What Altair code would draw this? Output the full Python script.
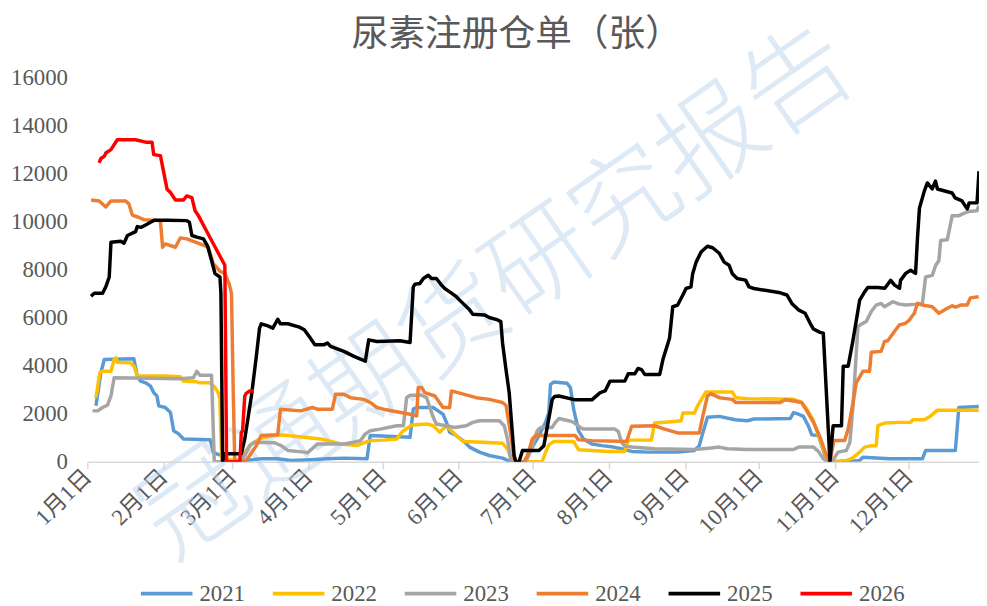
import altair as alt
import pandas as pd

years = ["2021", "2022", "2023", "2024", "2025", "2026"]
colors = ["#5B9BD5", "#FFC000", "#A5A5A5", "#ED7D31", "#000000", "#FF0000"]

month_days = [0, 31, 59, 90, 120, 151, 181, 212, 243, 273, 304, 334]
month_labels = ["1月1日", "2月1日", "3月1日", "4月1日", "5月1日", "6月1日",
                "7月1日", "8月1日", "9月1日", "10月1日", "11月1日", "12月1日"]
y_ticks = [0, 2000, 4000, 6000, 8000, 10000, 12000, 14000, 16000]

d2021 = [3.5,5.5,6.9,18.9,20.3,21.6,23.7,25.7,27,28.3,29,31.7,33.8,35.1,37.1,39.1,49.9,51.2,52.5,54.6,55.2,61.3,64,70.7,77.4,82.8,90.8,97.6,104.3,113.7,115,131.2,132.5,133.9,140.6,142.6,144.6,146,147.3,150,152.7,155.4,159.4,163.4,168.8,172.2,178.2,180.9,183.6,186.3,187.6,188.3,189.6,195,196.4,197.7,199.7,201.7,205.1,209.2,213.8,217.2,221.3,228,240,246.8,248.8,250.1,252.1,256.9,263.3,268.3,271,285.8,287.1,289.1,291.1,293.1,294.5,297.2,299.9,301.2,308.6,314,315.3,326.2,339.5,340.8,352.9,354.3,362.4]
v2021 = [2330,3710,4260,4290,3570,3360,3290,3150,2880,2740,2330,2260,2050,1290,1160,950,920,400,330,260,0,0,50,120,120,50,80,120,150,120,1090,1020,2190,2260,2260,2120,1980,1640,1230,1090,880,610,400,260,150,0,0,610,1090,1640,2050,3220,3320,3270,3090,2190,1290,950,740,670,610,540,430,400,400,470,670,1160,1850,1890,1750,1710,1780,1800,2050,1980,1890,1500,1120,1090,260,0,0,50,190,120,120,470,470,2260,2300]

d2022 = [3.5,5.1,6.2,9.6,10.9,11.6,12.2,17.6,19,20.3,31,37.8,39.1,44.5,45.8,49.9,51.9,53.2,53.9,54.6,62,64,66.7,70.7,77.4,81.5,88.2,94.9,100.3,103,109.7,112.4,115,120.4,125.8,127.8,130.5,131.9,138.6,140.6,143.3,144.6,146,150,152.7,160.8,168.8,171,172.2,173.5,184.9,186.3,187.6,189.6,197.7,199.7,205.1,211.8,218.5,219.9,229.3,230.6,237.4,241.4,242.1,246.8,248.1,250.1,251.5,262.2,263.6,268.3,287.1,290.4,292.5,295.2,297.2,299.2,301.2,308.6,311.3,314,316,318.7,320.7,321.4,324.1,330.1,334.8,335.5,340.2,342.9,345.6,362.4]
v2022 = [2670,3710,3770,3770,4260,4330,4150,4120,3980,3570,3570,3540,3360,3330,3290,3290,3090,2880,2600,100,50,400,740,990,1120,1090,1020,950,810,740,680,790,880,900,950,1230,1430,1530,1570,1500,1230,1360,1500,1090,840,810,770,500,120,0,0,400,700,840,840,500,470,430,430,900,900,1610,1670,1710,2030,2030,2330,2670,2910,2910,2670,2630,2600,2470,2190,1710,1090,540,0,50,170,400,610,670,670,1500,1610,1640,1640,1750,1750,1910,2150,2150]

d2023 = [2.1,4.2,6.2,8.2,9.6,10.9,37.8,43.1,44.5,45.8,50.5,51.6,62,64,66,68,76.1,78.8,81.5,88.2,89.5,93.5,104.3,108.3,111,113,115,119,125.8,128.5,129.8,131.2,135.9,137.9,139.2,140.6,141.9,146,149.3,154,156.7,159.4,167.5,169.5,170.8,172.2,173.5,178.2,180.9,182.9,184.3,189,190.3,191.7,195.7,197.7,200.4,201.7,214.5,215.9,217.2,218.5,221.3,230.6,246.8,253.5,256.9,260.2,268.3,287.1,289.1,295.2,297.2,299.2,301.2,303.2,305.2,308.6,310,311.3,312.6,313.3,314.6,316.7,318.7,320.7,322.7,324.1,327.4,330.1,332.8,337.5,339.5,340.8,343.5,344.9,346.2,346.9,349.6,351.6,354.3,355.6,358.3,361.7,362.4]
v2023 = [2120,2120,2260,2360,2740,3500,3460,3500,3770,3600,3600,0,0,260,670,810,790,670,470,400,370,740,740,810,880,1160,1290,1360,1500,1500,2670,2770,2770,2670,2290,1850,1570,1500,1430,1500,1640,1710,1710,1500,950,50,0,0,670,1290,1430,1430,1640,1800,1710,1640,1430,1360,1360,1250,810,650,610,540,510,570,610,540,510,510,610,610,430,120,0,80,400,470,810,2330,4530,5630,5730,5850,6260,6530,6600,6460,6670,6570,6530,6570,6600,7700,7770,8190,8390,9220,9250,10250,10250,10320,10430,10460,10670]

d2024 = [1.5,4.8,7.5,9.6,15.6,16.9,18.3,21,23,29.7,30.6,31.7,35.8,37.8,40.4,45.8,49.2,51.2,53.9,55.9,57.7,58.6,59.3,59.9,64,66,68.7,70.7,77.4,78.5,86.8,91.5,93.5,99.6,100.9,104.3,107,112.4,115,117.7,120.4,131.2,133.9,134.5,135.9,137.2,141.3,144.6,147.3,148,150.7,158.1,163.4,168.8,170.2,172.2,173.5,174.2,177.5,178.9,180.9,182.3,198.4,199.7,205.1,215.9,219.2,221.3,230.6,234.7,240,248.8,250.1,252.1,253.5,256.9,262.2,263.6,281.7,283.7,287.1,290.4,292.5,295.2,297.9,300.5,301.9,303.5,307.9,309.3,311.3,312.6,315.3,318,318.7,322.7,324.1,325.4,328.1,330.1,332.8,334.1,336.2,337.5,339.5,343.5,346.2,349.6,351.6,353,355,357.7,359,362.4]
v2024 = [10910,10870,10620,10870,10870,10740,10280,10180,10090,10050,8940,9080,8940,9330,9290,9080,8940,8260,7940,7840,7400,7010,3000,100,0,260,670,1090,1120,2190,2120,2260,2190,2190,2810,2810,2670,2600,2470,2260,2190,1980,1910,3090,3090,2880,2740,2260,2260,2950,2880,2670,2600,2470,2350,1090,120,0,0,260,950,1090,1090,920,880,850,840,1480,1500,1360,1200,1200,1850,2740,2840,2670,2600,2470,2470,2580,2530,2470,2120,1640,1020,260,0,880,880,1360,2470,3290,3770,3770,4560,4600,5010,5040,5430,5700,5780,5900,6190,6600,6530,6460,6190,6400,6500,6440,6530,6530,6830,6880]

d2025 = [1.5,2.8,6.2,7.5,8.9,9.6,13.6,14.9,16.3,19.6,20.3,21.9,23.7,25.7,27.3,32.4,40.4,41.5,42.5,44.5,47.2,48.8,50.5,51.9,53.9,54.3,55,55.9,62.6,64,66.7,68.7,70,70.7,73.4,75.4,77.4,78.5,81.5,86.2,88.2,90.2,92.5,96.3,97.6,98.9,104.3,108.4,113,114.4,117.7,127.1,131.2,132.5,133.2,135.2,136.6,138.6,139.9,141.9,144,145.3,147.3,150,152.7,155.4,156.7,161.4,163.4,166.8,168.1,168.8,170.2,171.5,173.5,174.2,175.5,176.9,183.6,185.6,188.3,189,190,191.7,198.4,205.1,208.5,210.5,212.5,218.5,219.9,222.6,223.9,225.3,226.6,232.7,234,236.7,238,240,242.1,243.4,245.4,246.1,247.5,249.5,252.1,254.2,256.9,258.9,260.9,262.2,264.2,267.6,269,271,281.7,284.4,286.4,289.1,291.8,293.8,295.2,297.9,299.2,301.9,303.2,306.6,307.3,309.3,311.3,314,316,317.3,321.4,324.2,326.6,328.2,330.2,330.6,332.7,334.7,336.7,337.5,338.3,340.3,341.5,343.5,344.8,345.6,351.6,352.8,355.6,357.7,358.5,361.7,362.5]
v2025 = [6900,7020,7020,7290,7700,9150,9190,9110,9430,9590,9800,9770,9870,9980,10070,10070,10050,9980,9430,9360,9290,9010,8390,7840,7700,7030,0,330,330,950,2740,4390,5570,5750,5660,5570,5940,5750,5750,5610,5500,5220,4880,4880,4950,4810,4600,4390,4190,5080,5010,5040,4970,7290,7400,7430,7640,7770,7640,7640,7360,7220,7080,6880,6600,6330,6150,6120,6010,5910,5840,4950,3840,2880,260,0,0,470,470,670,2190,2600,2720,2740,2580,2580,2880,2950,3360,3360,3670,3670,3890,3840,3640,3640,4260,5160,6460,6530,6950,7220,7290,7840,8320,8740,8980,8920,8690,8320,8190,7840,7640,7570,7290,7220,7040,6950,6600,6330,6190,5780,5530,5390,5360,0,1500,1500,3980,3980,5080,6740,7080,7260,7260,7230,7560,7360,7230,7560,7850,7980,7850,9340,10580,11290,11620,11370,11700,11370,11200,11000,10870,10540,10790,10790,12110]

d2026 = [4.8,5.5,6.9,7.5,9.6,12.2,19.6,23.7,26.3,27,29.7,32.4,33.8,35.8,39.1,40.4,42.5,43.8,45.2,50.5,55.9,56.6,62,62.6,63.1,64,64.6,66,67.7]
v2026 = [12460,12640,12730,12870,13010,13420,13420,13320,13320,12800,12760,11360,11220,10910,10910,11080,11010,10460,10250,9220,8190,0,0,1220,1280,2740,2850,2950,2950]

title_text = "尿素注册仓单（张）"
watermark_text = "冠通期货研究报告"

series = {
    "2021": (d2021, v2021), "2022": (d2022, v2022), "2023": (d2023, v2023),
    "2024": (d2024, v2024), "2025": (d2025, v2025), "2026": (d2026, v2026),
}

rows = []
for yr, (ds, vs) in series.items():
    assert len(ds) == len(vs), (yr, len(ds), len(vs))
    for d, v in zip(ds, vs):
        rows.append({"year": yr, "day": d, "value": v})
df = pd.DataFrame(rows)

label_expr = ("[" + ",".join("'%s'" % s for s in month_labels) + "][indexof(["
              + ",".join(str(d) for d in month_days) + "], datum.value)]")

serif = "Liberation Serif, Noto Sans CJK SC"
gray = "#595959"

lines = alt.Chart(df).mark_line(strokeWidth=3.5, clip=True, strokeJoin="round").encode(
    x=alt.X("day:Q",
            scale=alt.Scale(domain=[0, 362.5], nice=False, zero=False),
            axis=alt.Axis(values=month_days, labelExpr=label_expr, labelAngle=-45,
                          labelAlign="right", labelBaseline="middle",
                          labelFont=serif, labelFontSize=23, labelColor=gray,
                          domainColor="#d9d9d9", domainWidth=1.5,
                          tickColor="#d9d9d9", tickSize=7, tickWidth=1.5,
                          grid=False, title=None, labelPadding=4,
                          labelOverlap=False, labelBound=False, labelFlush=False)),
    y=alt.Y("value:Q",
            scale=alt.Scale(domain=[0, 16000], nice=False),
            axis=alt.Axis(values=y_ticks, format="d", grid=False, domain=False, ticks=False,
                          labelFont="Liberation Serif", labelFontSize=23,
                          labelColor=gray, labelPadding=20, title=None)),
    color=alt.Color("year:N",
                    scale=alt.Scale(domain=years, range=colors),
                    legend=alt.Legend(title=None, orient="none", legendX=52, legendY=492,
                                      direction="horizontal", columns=6,
                                      symbolType="stroke", symbolSize=2704,
                                      symbolStrokeWidth=4, labelFont="Liberation Serif",
                                      labelFontSize=23, labelColor=gray, labelOffset=5,
                                      columnPadding=20, padding=0)),
)

watermark = alt.Chart(pd.DataFrame({"t": [watermark_text]})).mark_text(
    font="Noto Sans CJK SC", fontSize=106, fontWeight=200, color="#bdd7ee",
    opacity=0.5, angle=325, align="center", baseline="middle"
).encode(text="t:N", x=alt.value(414), y=alt.value(218))

title = alt.Chart(pd.DataFrame({"t": [title_text]})).mark_text(
    font="Noto Sans CJK SC", fontSize=37, color=gray, align="center",
    baseline="middle", clip=False
).encode(text="t:N", x=alt.value(433), y=alt.value(-43))

chart = alt.layer(watermark, lines, title).properties(
    width=899, height=387,
    padding={"left": 80, "top": 68, "right": 0, "bottom": 142},
    autosize=alt.AutoSizeParams(type="none"),
).configure_view(stroke=None)

chart.save("out.html", embed_options={"renderer": "svg", "actions": False})
